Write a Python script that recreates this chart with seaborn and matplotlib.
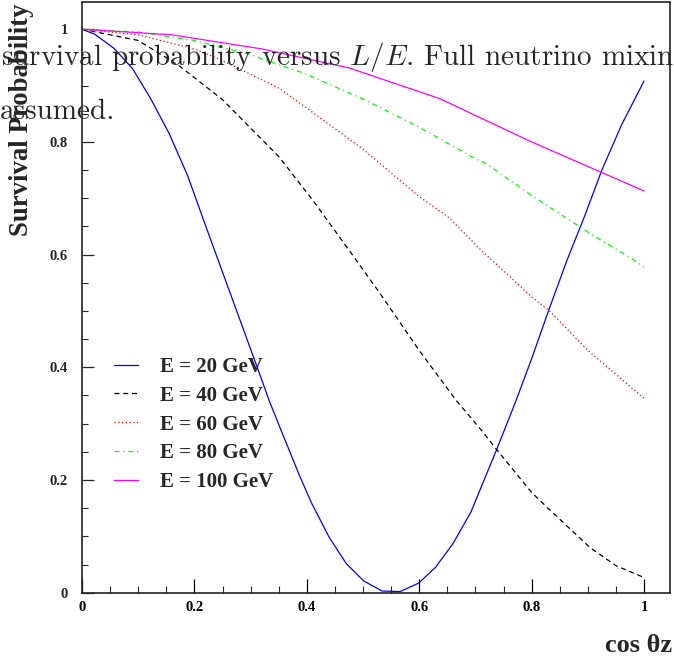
import matplotlib
matplotlib.use("Agg")
import matplotlib.pyplot as plt
import seaborn as sns
import pandas as pd
from matplotlib.ticker import MultipleLocator, FixedFormatter, FixedLocator

# ---- data ----
blue_x = [0, 0.023, 0.057, 0.090, 0.122, 0.155, 0.188, 0.216, 0.25, 0.28, 0.31, 0.333, 0.36,
          0.387, 0.408, 0.44, 0.47, 0.501, 0.534, 0.566, 0.599, 0.629, 0.66, 0.692, 0.72, 0.737,
          0.77, 0.80, 0.83, 0.863, 0.895, 0.925, 0.96, 1.0]
blue_y = [1.0, 0.991, 0.966, 0.930, 0.877, 0.815, 0.74, 0.662, 0.569, 0.487, 0.405, 0.341, 0.274,
          0.208, 0.160, 0.098, 0.052, 0.021, 0.003, 0.002, 0.017, 0.045, 0.087, 0.143, 0.211, 0.252,
          0.335, 0.415, 0.50, 0.590, 0.67, 0.750, 0.83, 0.908]

black_x = [0, 0.1, 0.173, 0.25, 0.351, 0.411, 0.47, 0.529, 0.6, 0.666, 0.711, 0.737, 0.8, 0.827,
           0.904, 0.95, 1.0]
black_y = [1.0, 0.98, 0.935, 0.875, 0.773, 0.696, 0.615, 0.533, 0.43, 0.341, 0.288, 0.255, 0.178,
           0.152, 0.080, 0.048, 0.027]

red_x = [0, 0.1, 0.2, 0.244, 0.3, 0.351, 0.4, 0.5, 0.6, 0.654, 0.708, 0.8, 0.832, 0.9, 1.0]
red_y = [1.0, 0.99, 0.965, 0.947, 0.92, 0.895, 0.86, 0.787, 0.703, 0.665, 0.61, 0.525, 0.500, 0.43, 0.345]

green_x = [0, 0.1, 0.2, 0.3, 0.333, 0.4, 0.5, 0.529, 0.6, 0.7, 0.72, 0.8, 0.9, 0.978, 1.0]
green_y = [1.0, 0.995, 0.98, 0.955, 0.943, 0.92, 0.876, 0.862, 0.826, 0.77, 0.761, 0.705, 0.64, 0.593, 0.578]

magenta_x = [0, 0.16, 0.32, 0.476, 0.636, 0.8, 1.0]
magenta_y = [1.0, 0.99, 0.965, 0.931, 0.877, 0.80, 0.713]

labels = ["E = 20 GeV", "E = 40 GeV", "E = 60 GeV", "E = 80 GeV", "E = 100 GeV"]
x_ticks = [0, 0.2, 0.4, 0.6, 0.8, 1.0]
x_ticklabels = ["0", "0.2", "0.4", "0.6", "0.8", "1"]
y_ticks = [0, 0.2, 0.4, 0.6, 0.8, 1.0]
y_ticklabels = ["0", "0.2", "0.4", "0.6", "0.8", "1"]

series = [
    (blue_x, blue_y, "#0000ff", "-"),
    (black_x, black_y, "#000000", (0, (4, 3))),
    (red_x, red_y, "#ff0000", (0, (1, 2))),
    (green_x, green_y, "#00ff00", (0, (4, 3, 1, 3))),
    (magenta_x, magenta_y, "#ff00ff", "-"),
]

# ---- figure ----
sns.set_style("ticks")
plt.rcParams["font.family"] = ["Liberation Serif", "DejaVu Serif"]
plt.rcParams["mathtext.fontset"] = "cm"

W, H = 674, 663
fig = plt.figure(figsize=(W / 100, H / 100), dpi=100)
L, R, B, T = 82, 670, 592.7, 2
ax = fig.add_axes([L / W, 1 - B / H, (R - L) / W, (B - T) / H])

for (xs, ys, col, ls), lab in zip(series, labels):
    df = pd.DataFrame({"x": xs, "y": ys})
    sns.lineplot(data=df, x="x", y="y", ax=ax, color=col, linestyle=ls, linewidth=0.9,
                 estimator=None, sort=False, label=lab)

ax.set_xlim(0, (R - L) / 562)
ax.set_ylim(0, (B - T) / 563.5)

ax.xaxis.set_major_locator(FixedLocator(x_ticks))
ax.xaxis.set_major_formatter(FixedFormatter(x_ticklabels))
ax.xaxis.set_minor_locator(MultipleLocator(0.05))
ax.yaxis.set_major_locator(FixedLocator(y_ticks))
ax.yaxis.set_major_formatter(FixedFormatter(y_ticklabels))
ax.yaxis.set_minor_locator(MultipleLocator(0.05))

ax.tick_params(axis="x", which="major", direction="in", length=10, width=0.9, pad=6,
               labelsize=10.5, colors="black")
ax.tick_params(axis="x", which="minor", direction="in", length=5, width=0.8)
ax.tick_params(axis="y", which="major", direction="in", length=8.6, width=0.9, pad=10,
               labelsize=10.5)
ax.tick_params(axis="y", which="minor", direction="in", length=4.3, width=0.8)
for t in ax.get_xticklabels() + ax.get_yticklabels():
    t.set_fontweight("bold")
for s in ax.spines.values():
    s.set_visible(True)
    s.set_linewidth(1.2)
    s.set_color("#222222")
ax.set_xlabel("")
ax.set_ylabel("")

leg = ax.legend(loc="upper left", bbox_to_anchor=(114 / W, 1 - 357 / H),
                bbox_transform=fig.transFigure, frameon=False,
                prop={"family": "Liberation Serif", "weight": "bold", "size": 15},
                handlelength=1.15, handletextpad=1.05, labelspacing=0.42, borderpad=0,
                borderaxespad=0)

fig.text(22 / W, 1 - 4 / H, "Survival Probability", rotation=90, ha="center", va="top",
         fontsize=19.3, fontweight="bold", family="Liberation Serif")
fig.text(672 / W, 1 - 645 / H, "cos θz", ha="right", va="center",
         fontsize=19, fontweight="bold", family="Liberation Serif")

fig.text(1 / W, 1 - 57 / H, r"survival probability versus $L/E$. Full neutrino mixing",
         ha="left", va="center", fontsize=21, family="cmr10")
fig.text(0 / W, 1 - 112 / H, "assumed.", ha="left", va="center", fontsize=21, family="cmr10")

fig.savefig("out.png", dpi=100)
